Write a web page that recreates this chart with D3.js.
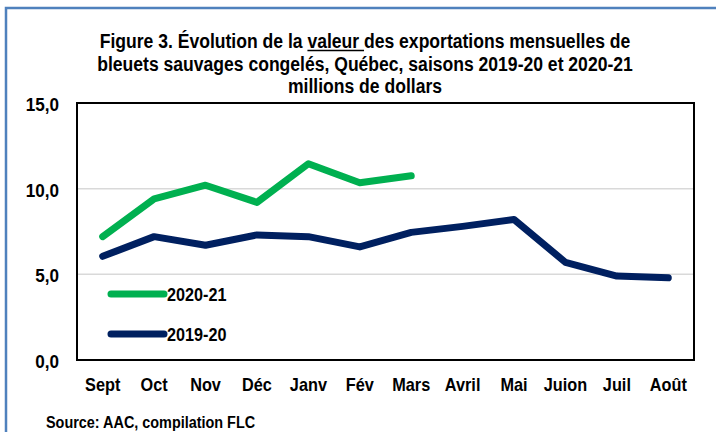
<!DOCTYPE html>
<html lang="fr">
<head>
    <meta charset="UTF-8">
    <title>Figure 3</title>
    <script src="https://cdn.jsdelivr.net/npm/d3@7"></script>
    <style type="text/css">
        body {
            margin: 0;
            background-color: #fff;
        }
        svg text {
            font-family: 'Liberation Sans', Arial, sans-serif;
            font-weight: bold;
            fill: #000;
        }
        .grid line {
            stroke: #d9d9d9;
            stroke-width: 1.5;
        }
    </style>
</head>
<body>
<div id="chart"></div>
<script type="text/javascript">
    var months = ["Sept", "Oct", "Nov", "Déc", "Janv", "Fév", "Mars", "Avril", "Mai", "Juion", "Juil", "Août"];
    var s2020 = [7.2, 9.4, 10.2, 9.2, 11.45, 10.35, 10.75];
    var s2019 = [6.05, 7.2, 6.7, 7.3, 7.2, 6.6, 7.45, 7.8, 8.2, 5.7, 4.9, 4.8];
    var yTicks = [0, 5, 10, 15];

    var W = 716, H = 432;
    var margin = {top: 103, right: 22, bottom: 72, left: 77},
        width = W - margin.left - margin.right,
        height = H - margin.top - margin.bottom;

    // police étroite (Arial Narrow) : on compresse le texte
    function condense(sel, f) {
        sel.each(function () {
            var w = this.getComputedTextLength();
            d3.select(this).attr("textLength", w * f).attr("lengthAdjust", "spacingAndGlyphs");
        });
    }

    var svg = d3.select("#chart").append("svg")
        .attr("width", W)
        .attr("height", H);

    // cadre bleu
    svg.append("path")
        .attr("d", "M6,432 V8 H716")
        .attr("fill", "none")
        .attr("stroke", "#4f81bd")
        .attr("stroke-width", 2.5);

    var title = ["Figure 3. Évolution de la valeur des exportations mensuelles de",
        "bleuets sauvages congelés, Québec, saisons 2019-20 et 2020-21",
        "millions de dollars"];
    var tf = 0.9, cx = 365;
    var t = svg.append("g").attr("font-size", 19.5).attr("text-anchor", "middle");
    var t1 = t.append("text").attr("x", cx).attr("y", 48).text(title[0]);
    t.append("text").attr("x", cx).attr("y", 71).text(title[1]);
    t.append("text").attr("x", cx).attr("y", 93).text(title[2]);

    // soulignement de « valeur »
    var full = t1.node().getComputedTextLength();
    var i0 = title[0].indexOf("valeur");
    var tmp = t.append("text").attr("text-anchor", "start")
        .style("white-space", "pre").text(title[0].slice(0, i0));
    var off = tmp.node().getComputedTextLength();
    tmp.text("valeur ");
    var wv = tmp.node().getComputedTextLength();
    tmp.remove();
    condense(t.selectAll("text"), tf);
    var ux = cx - full * tf / 2 + off * tf;
    svg.append("line")
        .attr("x1", ux).attr("x2", ux + wv * tf)
        .attr("y1", 50.5).attr("y2", 50.5)
        .attr("stroke", "#000").attr("stroke-width", 1.5);

    var g = svg.append("g")
        .attr("transform", "translate(" + margin.left + "," + margin.top + ")");

    var x = d3.scaleBand().domain(months).range([0, width]);
    var y = d3.scaleLinear().domain([0, 15]).range([height, 0]);

    g.append("g").attr("class", "grid")
        .selectAll("line")
        .data([5, 10])
        .enter().append("line")
        .attr("x1", 0).attr("x2", width)
        .attr("y1", d => y(d)).attr("y2", d => y(d));

    g.append("rect")
        .attr("width", width).attr("height", height)
        .attr("fill", "none")
        .attr("stroke", "#000")
        .attr("stroke-width", 2);

    var yAxis = d3.axisLeft(y).tickValues(yTicks).tickSize(0).tickPadding(18)
        .tickFormat(d => d3.format(".1f")(d).replace(".", ","));
    g.append("g").call(yAxis)
        .call(a => a.select(".domain").remove())
        .selectAll("text").attr("font-size", 19).attr("dy", "0.4em")
        .call(condense, 0.9);

    var xAxis = d3.axisBottom(x).tickSize(0).tickPadding(18);
    g.append("g").attr("transform", "translate(0," + height + ")").call(xAxis)
        .call(a => a.select(".domain").remove())
        .selectAll("text").attr("font-size", 18.5)
        .call(condense, 0.88);

    var line = d3.line()
        .x((d, i) => x(months[i]) + x.bandwidth() / 2)
        .y(d => y(d));

    var series = [
        {name: "2019-20", values: s2019, color: "#002060", ly: 334},
        {name: "2020-21", values: s2020, color: "#00b050", ly: 294}
    ];

    g.selectAll(".serie")
        .data(series)
        .enter().append("path")
        .attr("class", "serie")
        .attr("d", d => line(d.values))
        .attr("fill", "none")
        .attr("stroke", d => d.color)
        .attr("stroke-width", 7)
        .attr("stroke-linecap", "round")
        .attr("stroke-linejoin", "round");

    var leg = svg.selectAll(".leg")
        .data(series)
        .enter().append("g").attr("class", "leg");
    leg.append("line")
        .attr("x1", 111).attr("x2", 164)
        .attr("y1", d => d.ly).attr("y2", d => d.ly)
        .attr("stroke", d => d.color)
        .attr("stroke-width", 7)
        .attr("stroke-linecap", "round");
    leg.append("text")
        .attr("x", 167).attr("y", d => d.ly + 6.5)
        .attr("font-size", 18)
        .text(d => d.name)
        .call(condense, 0.9);

    svg.append("text")
        .attr("x", 46).attr("y", 428)
        .attr("font-size", 16)
        .text("Source: AAC, compilation FLC")
        .call(condense, 0.9);
</script>
</body>
</html>
